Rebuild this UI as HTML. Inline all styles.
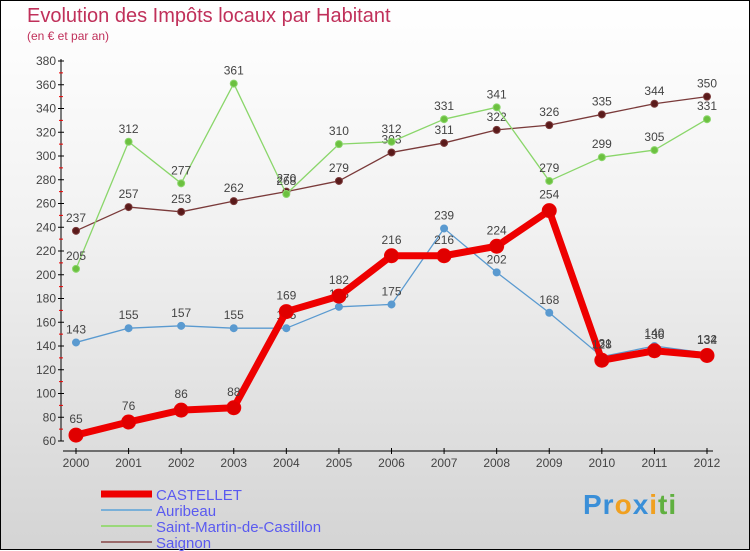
<!DOCTYPE html>
<html><head><meta charset="utf-8"><style>
body{margin:0;width:750px;height:550px;overflow:hidden;font-family:"Liberation Sans",sans-serif}
#wrap{position:relative;width:748px;height:548px;border:1px solid #000;background:linear-gradient(#fff 0%,#f2f2f2 40%,#d4d4d4 100%)}
.t{position:absolute;color:#c0305a}
</style></head><body>
<div id="wrap">
<div class="t" style="left:26px;top:4px;font-size:20px">Evolution des Impôts locaux par Habitant</div>
<div class="t" style="left:26px;top:28px;font-size:12px">(en € et par an)</div>
<svg id="svg" width="750" height="550" style="position:absolute;left:0;top:0"></svg>
<div style="position:absolute;left:582px;top:488px;font-size:28px;font-weight:bold;letter-spacing:1px"><span style="color:#3a8fd8">Pr</span><span style="color:#f0a020">o</span><span style="color:#3a8fd8">x</span><span style="color:#f0a020">i</span><span style="color:#60b040">ti</span></div>
</div>
<script>
const years=[2000,2001,2002,2003,2004,2005,2006,2007,2008,2009,2010,2011,2012];
const castellet=[65,76,86,88,169,182,216,216,224,254,128,136,132];
const auribeau=[143,155,157,155,155,173,175,239,202,168,131,140,134];
const saintMartin=[205,312,277,361,268,310,312,331,341,279,299,305,331];
const saignon=[237,257,253,262,270,279,303,311,322,326,335,344,350];
const yTicks=[60,80,100,120,140,160,180,200,220,240,260,280,300,320,340,360,380];
const NS="http://www.w3.org/2000/svg",svg=document.getElementById('svg');
const X=i=>75+i*(706-75)/12, Y=v=>440-(v-60)*380/320;
function mk(t,a,p){const e=document.createElementNS(NS,t);for(const k in a)e.setAttribute(k,a[k]);(p||svg).appendChild(e);return e;}
let e=mk('line',{x1:60,y1:58,x2:60,y2:440,stroke:'#000'});


e=mk('line',{x1:62,y1:450,x2:712,y2:450,stroke:'#000'});


yTicks.forEach((v,i)=>{
 mk('line',{x1:57,y1:Y(v),x2:63,y2:Y(v),stroke:'#000'});
 if(i<yTicks.length-1)mk('line',{x1:58,y1:Y(v+10),x2:62,y2:Y(v+10),stroke:'#e00'});
 e=mk('text',{x:55,y:Y(v)+4,'text-anchor':'end','font-size':12,fill:'#444'});e.textContent=v;
 
 
});
years.forEach((y,i)=>{
 mk('line',{x1:X(i),y1:447,x2:X(i),y2:453,stroke:'#000'});
 e=mk('text',{x:X(i),y:466,'text-anchor':'middle','font-size':12,fill:'#444'});e.textContent=y;
 
 
});
function series(d,col,w,r,name,fill){
 const g=mk('g',{});
 
 
 mk('polyline',{points:d.map((v,i)=>X(i)+','+Y(v)).join(' '),fill:'none',stroke:col,'stroke-width':w,'stroke-linejoin':'round'},g);
 d.forEach((v,i)=>{
  const c=mk('circle',{cx:X(i),cy:Y(v),r:r,fill:fill,stroke:col,'stroke-width':1},g);
  
  
  const t=mk('text',{x:X(i),y:Y(v)-9-(r>4?3:0),'text-anchor':'middle','font-size':12,fill:'#444'},g);t.textContent=v;
 });
}
series(saignon,'#7a3a3a',1.3,3.5,'saignon-series','#5a1a1a');
series(saintMartin,'#8ad66a',1.3,3.5,'saint-martin-series','#6cc040');
series(auribeau,'#5a9ad0',1.3,3.5,'auribeau-series','#5a9ad0');
series(castellet,'#ee0000',7,7,'castellet-series','#e00000');
const leg=[['CASTELLET','#ee0000',7],['Auribeau','#7ab0d8',2],['Saint-Martin-de-Castillon','#9ad87a',2],['Saignon','#9a6a6a',2]];
leg.forEach((l,i)=>{
 const y=[493,509,525,541][i];
 const g=mk('g',{});
 
 
 mk('line',{x1:100,y1:y,x2:151,y2:y,stroke:l[1],'stroke-width':l[2]},g);
 const t=mk('text',{x:155,y:y+6,'font-size':15,fill:'#5a5af0'},g);t.textContent=l[0];
});
</script>
</body></html>
